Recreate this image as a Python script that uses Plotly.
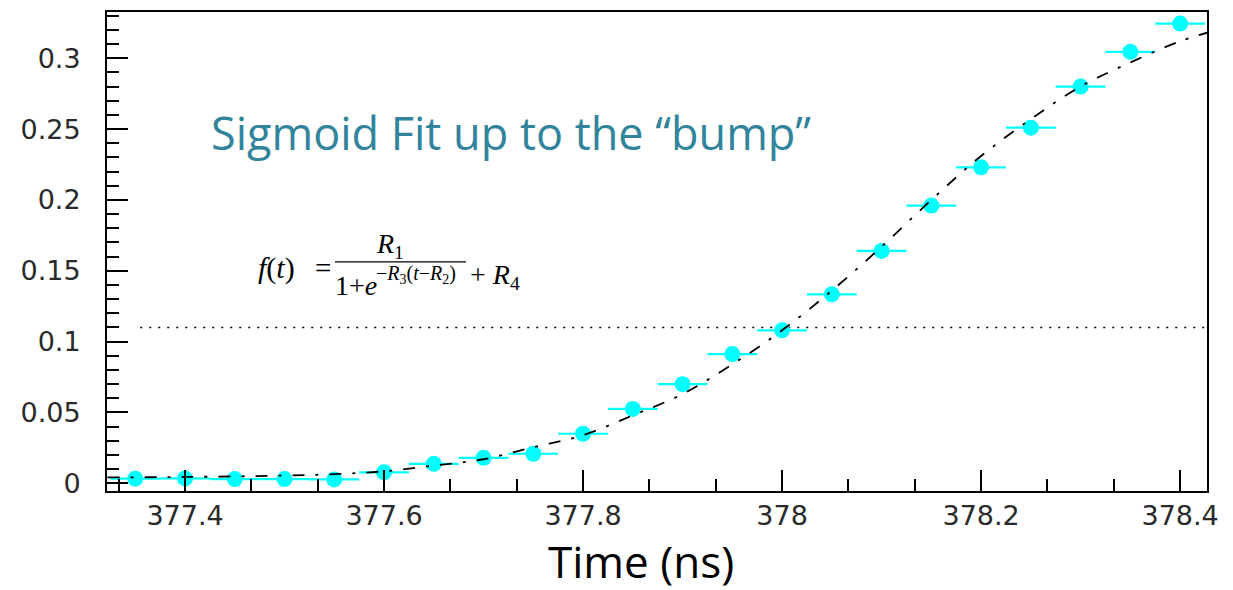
import plotly.graph_objects as go

# ---- data ----
times = [377.35, 377.40, 377.45, 377.50, 377.55, 377.60, 377.65, 377.70, 377.75, 377.80, 377.85,
         377.90, 377.95, 378.00, 378.05, 378.10, 378.15, 378.20, 378.25, 378.30, 378.35, 378.40]
amplitude = [0.0033, 0.0035, 0.0030, 0.0030, 0.0028, 0.0078, 0.0138, 0.0180, 0.0209, 0.0350, 0.0525,
             0.0700, 0.0912, 0.1080, 0.1334, 0.1640, 0.1960, 0.2230, 0.2510, 0.2800, 0.3045, 0.3244]
bin_half_width = [0.025] * len(times)

fit_t = [377.322, 377.40, 377.50, 377.55, 377.60, 377.65, 377.70, 377.75, 377.80, 377.85, 377.90,
         377.95, 378.00, 378.05, 378.10, 378.15, 378.20, 378.25, 378.30, 378.35, 378.40, 378.427]
fit_v = [0.0042, 0.0045, 0.0055, 0.0065, 0.0085, 0.0125, 0.0170, 0.0255, 0.0340, 0.0480, 0.0630,
         0.0840, 0.1080, 0.1360, 0.1670, 0.2000, 0.2310, 0.2570, 0.2800, 0.2970, 0.3120, 0.3180]

threshold_t = [377.355, 378.427]
threshold_v = [0.11, 0.11]

x_tickvals = [377.4, 377.6, 377.8, 378.0, 378.2, 378.4]
x_ticktext = ["377.4", "377.6", "377.8", "378", "378.2", "378.4"]
y_tickvals = [0, 0.05, 0.1, 0.15, 0.2, 0.25, 0.3]
y_ticktext = ["0", "0.05", "0.1", "0.15", "0.2", "0.25", "0.3"]

title_text = "Sigmoid Fit up to the \u201cbump\u201d"
x_title = "Time (ns)"

# ---- figure ----
W, H = 1233, 590
ML, MR, MT, MB = 107, 26, 10, 99
PW, PH = W - ML - MR, H - MT - MB


def px(x):
    return (x - ML) / PW


def py(y):
    return (H - MB - y) / PH


fig = go.Figure()

fig.add_trace(go.Scatter(
    x=threshold_t, y=threshold_v, mode="lines",
    line=dict(color="black", width=1.6, dash="2px,7px"),
    hoverinfo="skip", showlegend=False))

fig.add_trace(go.Scatter(
    x=times, y=amplitude, mode="markers",
    marker=dict(symbol="circle", size=16, color="#00FFFF", line=dict(width=0)),
    error_x=dict(type="data", array=bin_half_width, visible=True,
                 color="#00FFFF", thickness=2.2, width=0),
    showlegend=False))

fig.add_trace(go.Scatter(
    x=fit_t, y=fit_v, mode="lines",
    line=dict(color="black", width=1.8, dash="12px,11px,3px,11px", shape="spline"),
    showlegend=False))

axis_font = dict(family="DejaVu Sans", size=27, color="#2a2a2a")

fig.update_xaxes(
    range=[377.3216, 378.427], showgrid=False, zeroline=False,
    showline=True, linecolor="black", linewidth=2, mirror=True,
    ticks="inside", ticklen=21, tickwidth=2, tickcolor="black",
    tickvals=x_tickvals, ticktext=x_ticktext, tickfont=axis_font,
    ticklabelstandoff=0,
    minor=dict(ticks="inside", ticklen=12, tickwidth=2, tickcolor="black",
               tick0=377.4, dtick=0.2 / 3, showgrid=False),
)
fig.update_yaxes(
    range=[-0.0054, 0.3326], showgrid=False, zeroline=False,
    showline=True, linecolor="black", linewidth=2, mirror=True,
    ticks="inside", ticklen=21, tickwidth=2, tickcolor="black",
    tickvals=y_tickvals, ticktext=y_ticktext, tickfont=axis_font,
    ticklabelstandoff=19,
    minor=dict(ticks="inside", ticklen=12, tickwidth=2, tickcolor="black",
               tick0=0, dtick=0.01, showgrid=False),
)

serif = "Liberation Serif"
ann = [
    dict(text=title_text, x=px(209), y=py(131), xanchor="left", yanchor="middle",
         font=dict(family="Open Sans", size=45, color="#31849B")),
    dict(text=x_title, x=px(641), y=py(561), xanchor="center", yanchor="middle", borderpad=0,
         font=dict(family="Open Sans", size=44, color="black")),
    dict(text="<i>f</i>(<i>t</i>)", x=px(256), y=py(267), xanchor="left", yanchor="middle",
         font=dict(family=serif, size=30, color="black")),
    dict(text="=", x=px(333), y=py(267), xanchor="right", yanchor="middle",
         font=dict(family=serif, size=29, color="black")),
    dict(text="<i>R</i><sub>1</sub>", x=px(390), y=py(244), xanchor="center", yanchor="middle",
         font=dict(family=serif, size=28, color="black")),
    dict(text="1+<i>e</i>", x=px(333), y=py(285), xanchor="left", yanchor="middle",
         font=dict(family=serif, size=28, color="black")),
    dict(text="\u2212<i>R</i><sub>3</sub>(<i>t</i>\u2212<i>R</i><sub>2</sub>)", x=px(374), y=py(274),
         xanchor="left", yanchor="middle", font=dict(family=serif, size=20, color="black")),
    dict(text="+ <i>R</i><sub>4</sub>", x=px(468), y=py(276), xanchor="left", yanchor="middle",
         font=dict(family=serif, size=28, color="black")),
]
for a in ann:
    a.update(xref="paper", yref="paper", showarrow=False)

fig.update_layout(
    width=W, height=H,
    margin=dict(l=ML, r=MR, t=MT, b=MB, pad=0),
    paper_bgcolor="white", plot_bgcolor="white",
    annotations=ann,
    shapes=[dict(type="line", xref="paper", yref="paper",
                 x0=px(335), x1=px(466), y0=py(261), y1=py(261),
                 line=dict(color="black", width=1.2))],
    showlegend=False,
)

fig.write_html("out.html")
